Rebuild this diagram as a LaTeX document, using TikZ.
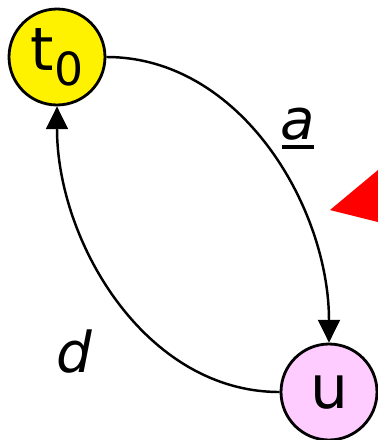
\documentclass[tikz,border=0pt]{standalone}
\usepackage{fontspec}
\setmainfont{DejaVu Sans}
\usetikzlibrary{arrows.meta}
\begin{document}
\begin{tikzpicture}[x=0.02cm,y=-0.02cm,
  state/.style={circle,draw=black,line width=1.6pt,minimum size=1.92cm,inner sep=0pt,font=\fontsize{34}{38}\selectfont},
  trans/.style={line width=1.4pt,-{Triangle[length=13pt,width=12.5pt]}},
  lbl/.style={font=\fontsize{32}{36}\selectfont\itshape}]
  \useasboundingbox (0,0) rectangle (378,440);
  % states
  \node[state,fill=yellow] (t0) at (57,57) {t\raisebox{-0.45ex}{\fontsize{26}{30}\selectfont 0}};
  \node[state,fill={rgb,255:red,255;green,204;blue,255}] (u) at (329,392) {u};
  % transitions
  \draw[trans] (t0.east) to[out=0,in=90,looseness=0.95] (u.north);
  \draw[trans] (u.west) to[out=180,in=-90,looseness=0.95] (t0.south);
  \node[lbl] (la) at (298,124) {a};
  \draw[line width=2.6pt] (282,147) -- (314,147);
  \node[lbl] (ld) at (74,352) {d};
  % marker
  \fill[red] (330,210) -- (378,170) -- (378,222) -- cycle;
\end{tikzpicture}
\end{document}
